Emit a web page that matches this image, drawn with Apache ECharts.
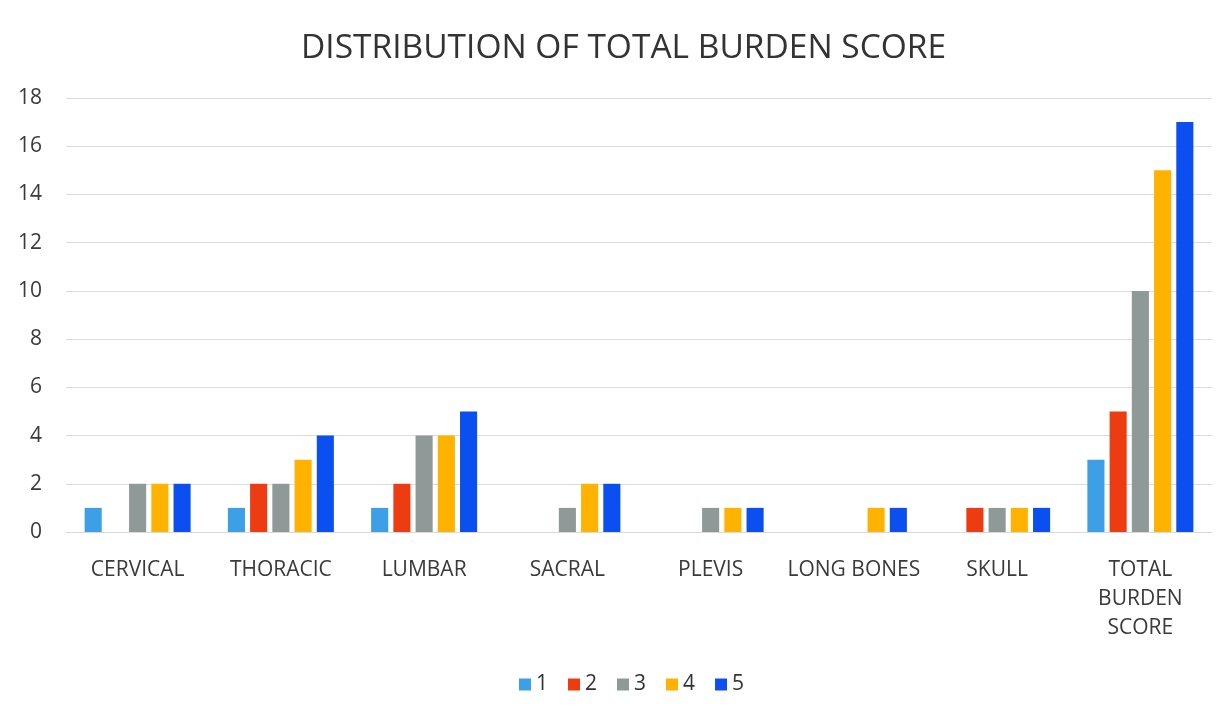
<!DOCTYPE html>
<html><head><meta charset="utf-8">
<script src="https://cdn.jsdelivr.net/npm/echarts@6/dist/echarts.min.js"></script>
<style>html,body{margin:0;padding:0;background:#fff}#c{width:1219px;height:712px}</style>
</head><body><div id="c"></div>
<script>
const categories = ['CERVICAL','THORACIC','LUMBAR','SACRAL','PLEVIS','LONG BONES','SKULL','TOTAL\nBURDEN\nSCORE'];
const seriesNames = ['1','2','3','4','5'];
const s1 = [1,1,1,0,0,0,0,3];
const s2 = [0,2,2,0,0,0,1,5];
const s3 = [2,2,4,1,1,0,1,10];
const s4 = [2,3,4,2,1,1,1,15];
const s5 = [2,4,5,2,1,1,1,17];
const yTicks = {min:0,max:18,interval:2};
const colors = ['#3d9fe6','#ee3c12','#8f9a98','#ffb300','#0b4ff0'];
const values = [s1,s2,s3,s4,s5];
const font = 'Open Sans, Lato, sans-serif';
const chart = echarts.init(document.getElementById('c'));
chart.setOption({
  animation:false,
  color:colors,
  title:{text:'DISTRIBUTION OF TOTAL BURDEN SCORE',left:296,top:26,textStyle:{fontFamily:font,fontSize:33.5,fontWeight:'normal',color:'#333'}},
  legend:{bottom:12,left:514,itemWidth:12,itemHeight:12,itemGap:20,icon:'rect',textStyle:{fontFamily:font,fontSize:21,color:'#333'},data:seriesNames},
  grid:{left:66,right:7,top:98,bottom:180},
  xAxis:{type:'category',data:categories,axisTick:{show:false},axisLine:{lineStyle:{color:'#d9d9d9'}},
    axisLabel:{fontFamily:font,fontSize:21,color:'#3a3a3a',margin:24,lineHeight:29,interval:0}},
  yAxis:{type:'value',min:yTicks.min,max:yTicks.max,interval:yTicks.interval,
    axisLabel:{fontFamily:font,fontSize:21,color:'#3a3a3a',margin:24},
    splitLine:{lineStyle:{color:'#dcdcdc'}}},
  series:values.map((v,i)=>({name:seriesNames[i],type:'bar',data:v,barGap:'30%',barCategoryGap:'26%'}))
});
</script></body></html>
